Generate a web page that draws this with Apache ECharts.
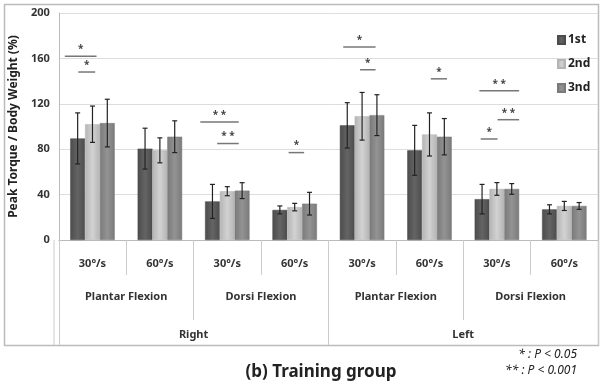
<!DOCTYPE html>
<html><head><meta charset="utf-8">
<script src="https://cdn.jsdelivr.net/npm/echarts@6/dist/echarts.min.js"></script>
<style>html,body{margin:0;padding:0;background:#fff}#c{width:602px;height:383px}</style>
</head><body><div id="c"></div>
<script>
var categories = ['30°/s','60°/s','30°/s','60°/s','30°/s','60°/s','30°/s','60°/s'];
var motions = ['Plantar Flexion','Dorsi Flexion','Plantar Flexion','Dorsi Flexion'];
var sides = ['Right','Left'];
var seriesNames = ['1st','2nd','3nd'];
var mean1 = [89.5, 80.5, 34, 26.5, 101, 79, 36, 27];
var mean2 = [102, 79, 43, 29, 109, 93, 45, 30];
var mean3 = [103, 91, 43.5, 32, 110, 91, 45, 30];
var err1 = [22.5, 18, 15, 3.5, 20, 22, 13, 4];
var err2 = [16, 11, 4, 3.3, 21, 19, 5.6, 4];
var err3 = [21, 14, 7, 10, 18, 16, 4.7, 3];
// significance brackets: [xStart, xEnd, yValue, label] in category units (0..8)
var sigX1 = [0.09, 0.29, 2.10, 2.35, 3.41, 4.22, 4.47, 5.52, 6.24, 6.51, 6.26];
var sigX2 = [0.56, 0.54, 2.67, 2.67, 3.64, 4.70, 4.70, 5.76, 6.83, 6.83, 6.51];
var sigY  = [162, 148, 104, 85, 77, 170, 150, 142, 131.5, 106, 89];
var sigLabel = ['*','*','* *','* *','*','*','*','*','* *','* *','*'];
var yTicks = [0, 40, 80, 120, 160, 200];

var means = [mean1, mean2, mean3];
var errs = [err1, err2, err3];
var colors = [
  ['#4c4c4c','#646464','#4c4c4c'],
  ['#b4b4b4','#d2d2d2','#b4b4b4'],
  ['#7a7a7a','#939393','#7a7a7a']
];
var legendColors = ['#555555','#c4c4c4','#878787'];
var GAP = 0.34;
var FONT = 'Noto Sans';

var chart = echarts.init(document.getElementById('c'));
var series = [];
seriesNames.forEach(function(n, i){
  series.push({
    name: n, type: 'bar', xAxisIndex: 0, yAxisIndex: 0,
    barGap: '0%', barCategoryGap: (GAP*100)+'%',
    data: means[i],
    itemStyle: {
      color: new echarts.graphic.LinearGradient(0,0,1,0,[
        {offset:0,color:colors[i][0]},{offset:0.5,color:colors[i][1]},{offset:1,color:colors[i][2]}]),
      borderColor: colors[i][0], borderWidth: 0.5
    },
    z: 2
  });
});
// error bars
seriesNames.forEach(function(n, i){
  var d = means[i].map(function(m, k){ return [k, m, errs[i][k]]; });
  series.push({
    type: 'custom', xAxisIndex: 0, yAxisIndex: 0, z: 5, silent: true,
    data: d,
    renderItem: function(params, api){
      var k = api.value(0), m = api.value(1), e = api.value(2);
      var band = api.size([1,0])[0];
      var bw = band*(1-GAP)/3;
      var c = api.coord([k, m]);
      var x = c[0] + (i-1)*bw;
      var top = api.coord([k, m+e])[1];
      var bot = api.coord([k, m-e])[1];
      var st = {stroke:'#222', lineWidth:1.2};
      return {type:'group', children:[
        {type:'line', shape:{x1:x,y1:top,x2:x,y2:bot}, style:st},
        {type:'line', shape:{x1:x-2.5,y1:top,x2:x+2.5,y2:top}, style:st},
        {type:'line', shape:{x1:x-2.5,y1:bot,x2:x+2.5,y2:bot}, style:st}
      ]};
    }
  });
});
// significance brackets
series.push({
  type:'custom', xAxisIndex: 3, yAxisIndex: 0, z: 6, silent: true,
  data: sigY.map(function(y, k){ return [sigX1[k], sigX2[k], y, k]; }),
  renderItem: function(params, api){
    var a = api.coord([api.value(0), api.value(2)]);
    var b = api.coord([api.value(1), api.value(2)]);
    var lbl = sigLabel[api.value(3)];
    return {type:'group', children:[
      {type:'line', shape:{x1:a[0],y1:a[1],x2:b[0],y2:b[1]}, style:{stroke:'#777', lineWidth:1.5}},
      {type:'text', x:(a[0]+b[0])/2, y:a[1]-7, style:{text:lbl, fill:'#444', font:'bold 10px "Noto Sans"', align:'center', verticalAlign:'middle'}}
    ]};
  }
});

var option = {
  animation: false,
  backgroundColor: '#fff',
  textStyle: {fontFamily: FONT},
  title: {
    text: '(b) Training group', left: 316, top: 359, textAlign: 'center',
    textStyle: {fontFamily: FONT, fontSize: 17, fontWeight: 'bold', color: '#222'}
  },
  legend: {
    data: seriesNames, orient: 'vertical', left: 552, top: 29, itemGap: 12,
    icon: 'rect', itemWidth: 7, itemHeight: 8, itemStyle:{},
    textStyle: {fontFamily: FONT, fontSize: 12, fontWeight: 'bold', color: '#222', padding:[0,0,0,-2]},
    formatter: function(n){ return n; }
  },
  color: legendColors,
  grid: {left: 54, right: 4, top: 13, bottom: 143, containLabel: false},
  xAxis: [
    {type:'category', data: categories, position:'bottom',
     axisLine:{show:true, lineStyle:{color:'#bbb', width:1}},
     axisTick:{show:true, interval:0, length:35, lineStyle:{color:'#ccc'}},
     axisLabel:{interval:0, margin:18, fontFamily:FONT, fontSize:11, fontWeight:'bold', color:'#333'}},
    {type:'category', data: motions, position:'bottom',
     axisLine:{show:false},
     axisTick:{show:true, interval:0, length:80, lineStyle:{color:'#ccc'}},
     axisLabel:{interval:0, margin:51, fontFamily:FONT, fontSize:11, fontWeight:'bold', color:'#333'}},
    {type:'category', data: sides, position:'bottom',
     axisLine:{show:false},
     axisTick:{show:true, interval:0, length:105, lineStyle:{color:'#ccc'}},
     axisLabel:{interval:0, margin:89, fontFamily:FONT, fontSize:11, fontWeight:'bold', color:'#333'}},
    {type:'value', min:0, max:8, show:false}
  ],
  yAxis: [{
    type:'value', min: yTicks[0], max: yTicks[yTicks.length-1], interval: 40,
    name: 'Peak Torque / Body Weight (%)', nameLocation:'middle', nameGap: 31,
    nameTextStyle:{fontFamily:FONT, fontSize:12, fontWeight:'bold', color:'#222'},
    axisLine:{show:true, lineStyle:{color:'#bbb'}},
    axisTick:{show:false},
    axisLabel:{fontFamily:FONT, fontSize:11, fontWeight:'bold', color:'#333', margin:9},
    splitLine:{show:true, lineStyle:{color:'#ddd'}}
  }],
  graphic: [
    {type:'rect', shape:{x:4.5, y:4.5, width:594, height:341}, style:{fill:'none', stroke:'#bbb', lineWidth:1.5}, z:-1},
    {type:'line', shape:{x1:54, y1:240, x2:54, y2:345}, style:{stroke:'#ccc', lineWidth:1}},
    {type:'text', right: 25, top: 349, style:{text:'* : P < 0.05', font:'italic 12px "Noto Sans"', fill:'#222', align:'right'}},
    {type:'text', right: 25, top: 365, style:{text:'** : P < 0.001', font:'italic 12px "Noto Sans"', fill:'#222', align:'right'}}
  ],
  series: series
};
chart.setOption(option);
</script></body></html>
